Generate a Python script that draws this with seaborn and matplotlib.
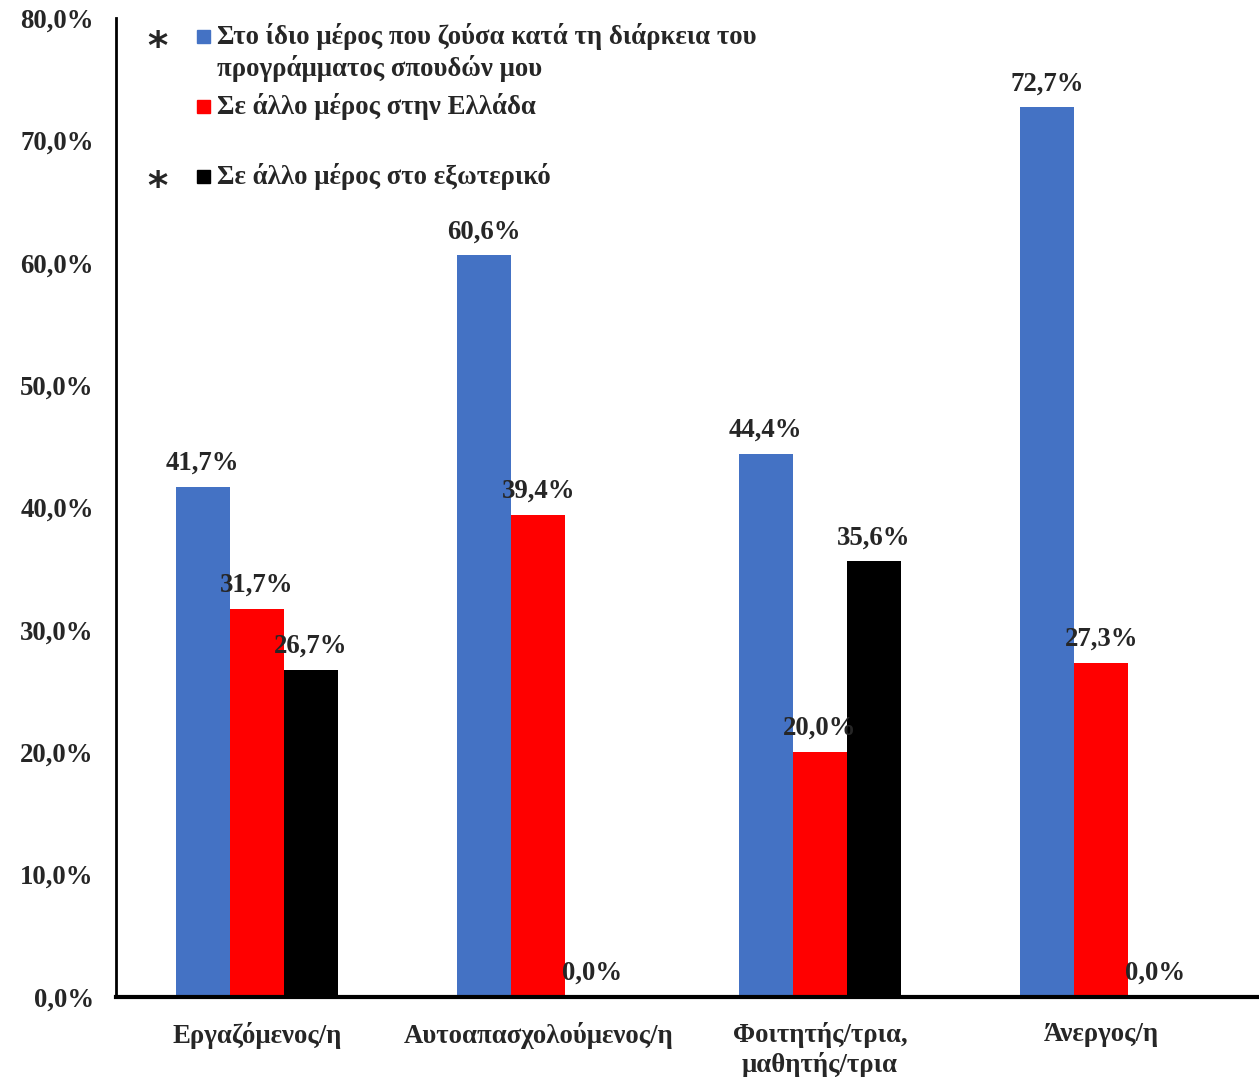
import pandas as pd
import matplotlib.pyplot as plt
import seaborn as sb
from matplotlib.patches import Rectangle

# DATA
# -----------------------------

categories = ["Εργαζόμενος/η", "Αυτοαπασχολούμενος/η", "Φοιτητής/τρια,\nμαθητής/τρια", "Άνεργος/η"]
series = [
    "Στο ίδιο μέρος που ζούσα κατά τη διάρκεια του\nπρογράμματος σπουδών μου",
    "Σε άλλο μέρος στην Ελλάδα",
    "Σε άλλο μέρος στο εξωτερικό",
]
same_place = [41.7, 60.6, 44.4, 72.7]
other_greece = [31.7, 39.4, 20.0, 27.3]
abroad = [26.7, 0.0, 35.6, 0.0]
colors = ["#4472C4", "#FF0000", "#000000"]
yticks = [0, 10, 20, 30, 40, 50, 60, 70, 80]

FS = 19.3
W, H = 1259, 1077

# BUILD TABLE
# -----------------------------

rows = []
for s, vals in zip(series, [same_place, other_greece, abroad]):
    for c, v in zip(categories, vals):
        rows.append({"category": c, "series": s, "value": v})
df = pd.DataFrame(rows)

# PLOT
# -----------------------------

sb.set_style("white")
plt.rcParams["font.family"] = ["Liberation Serif", "DejaVu Serif"]
plt.rcParams["font.weight"] = "bold"

fig = plt.figure(figsize=(W / 100, H / 100), dpi=100)
ax = fig.add_axes([116 / W, 1 - 997 / H, 1 - 116 / W, (997 - 18) / H])

sb.barplot(data=df, x="category", y="value", hue="series", order=categories,
           hue_order=series, palette=colors, width=0.575, saturation=1,
           linewidth=0, legend=False, ax=ax)

for cont in ax.containers:
    labels = [f"{b.get_height():.1f}%".replace(".", ",") for b in cont]
    ax.bar_label(cont, labels=labels, padding=8, fontsize=FS, fontweight="bold")

ax.set_ylim(0, 80)
ax.set_xlim(-0.5, 3.56)
ax.set_yticks(yticks)
ax.set_yticklabels([f"{t:.1f}%".replace(".", ",") for t in yticks], fontsize=FS, fontweight="bold")
ax.tick_params(axis="y", length=0, pad=16)
ax.tick_params(axis="x", length=0, pad=18, labelsize=FS)
for lab in ax.get_xticklabels():
    lab.set_fontweight("bold")
ax.set_xlabel("")
ax.set_ylabel("")

for side in ["top", "right"]:
    ax.spines[side].set_visible(False)
ax.spines["left"].set_linewidth(2)
ax.spines["left"].set_color("black")
ax.spines["bottom"].set_linewidth(3)
ax.spines["bottom"].set_color("black")

# LEGEND (manual, as in the original)
# -----------------------------

entries = [(series[0].split("\n"), colors[0], 37, True),
           ([series[1]], colors[1], 107, False),
           ([series[2]], colors[2], 177, True)]
for lines, col, ypx, star in entries:
    fig.patches.append(Rectangle((197 / W, 1 - (ypx + 6) / H), 13 / W, 13 / H,
                                 transform=fig.transFigure, color=col))
    for i, line in enumerate(lines):
        fig.text(217 / W, 1 - (ypx + 31 * i) / H, line, fontsize=FS, fontweight="bold",
                 va="center", ha="left")
    if star:
        fig.text(157 / W, 1 - (ypx + 11) / H, "*", fontsize=28, fontweight="bold",
                 va="center", ha="center", family="DejaVu Sans")

fig.savefig("out.png", dpi=100)
